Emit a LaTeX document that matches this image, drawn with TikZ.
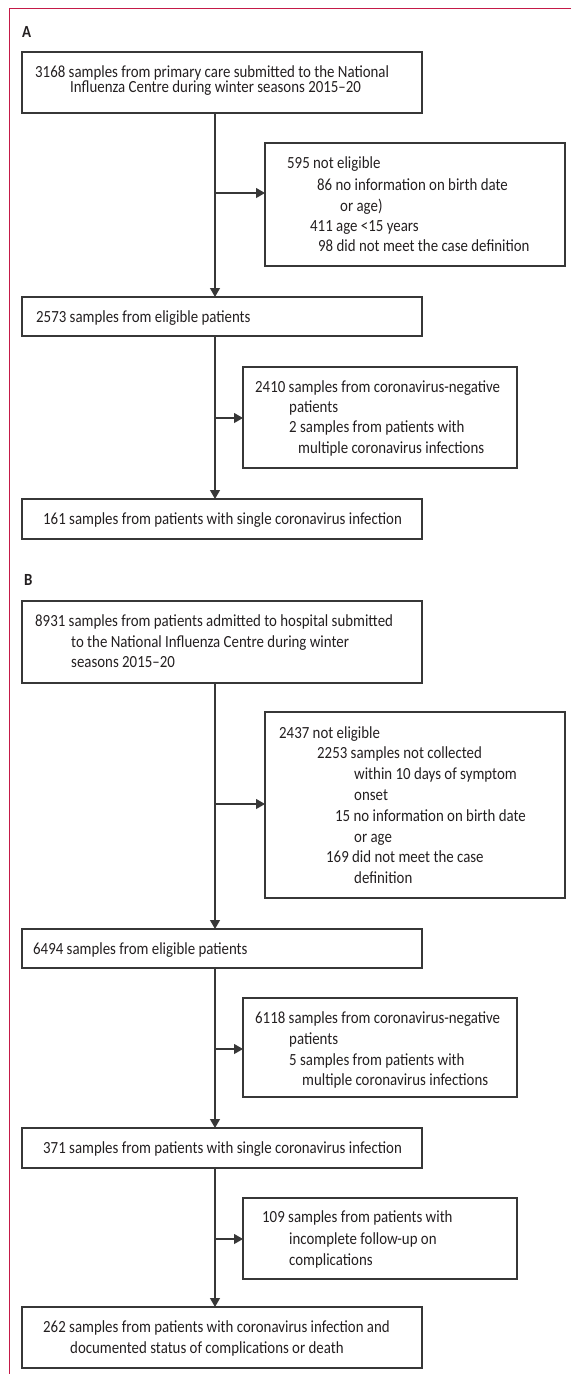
\documentclass[tikz,border=0pt]{standalone}
\usepackage{fontspec}
\setmainfont{Carlito}[FakeStretch=0.875]
\usetikzlibrary{arrows.meta}
\definecolor{framecol}{RGB}{196,26,72}
\definecolor{ink}{RGB}{35,31,32}
\definecolor{linecol}{RGB}{55,55,55}
\begin{document}
\begin{tikzpicture}[x=1pt,y=-1pt,
  box/.style={draw=linecol, line width=1.1pt, inner sep=0pt, outer sep=0pt, anchor=north west},
  txt/.style={anchor=west, inner sep=0pt, text height=10.8pt, text depth=0pt, font=\fontsize{17}{20}\selectfont, text=ink},
  arr/.style={draw=linecol, line width=1.1pt, -{Triangle[length=9pt,width=10pt]}},
  lab/.style={anchor=west, inner sep=0pt, text height=11pt, text depth=0pt, font=\bfseries\fontsize{17}{20}\selectfont, text=ink},
  framel/.style={draw=framecol, line width=1pt}
]
\useasboundingbox (0,0) rectangle (571,1374);
% frame
\coordinate (fTL) at (9,8);
\coordinate (fTR) at (571,8);
\coordinate (fBL) at (9,1374);
\draw[framel] (fTR) -- (fTL) -- (fBL);

% ---------- A ----------
\node[lab] (labA) at (22,32) {A};
\node[box, minimum width=400pt, minimum height=61pt] (a1) at (22,52) {};
\node[txt] (a1t1) at (35,72) {3168 samples from primary care submitted to the National};
\node[txt] (a1t2) at (70,87) {Influenza Centre during winter seasons 2015–20};

\node[box, minimum width=300pt, minimum height=123pt] (a2) at (265,143) {};
\node[txt] (a2t1) at (287,163) {595 not eligible};
\node[txt] (a2t2) at (317,185) {86 no information on birth date};
\node[txt] (a2t3) at (340,206) {or age)};
\node[txt] (a2t4) at (310,226) {411 age <15 years};
\node[txt] (a2t5) at (318,246) {98 did not meet the case definition};

\node[box, minimum width=400pt, minimum height=39pt] (a3) at (22,297) {};
\node[txt] (a3t1) at (36,317) {2573 samples from eligible patients};

\node[box, minimum width=274pt, minimum height=101pt] (a4) at (243,367) {};
\node[txt] (a4t1) at (255,387) {2410 samples from coronavirus-negative};
\node[txt] (a4t2) at (289,407) {patients};
\node[txt] (a4t3) at (289,427) {2 samples from patients with};
\node[txt] (a4t4) at (298,448) {multiple coronavirus infections};

\node[box, minimum width=400pt, minimum height=40pt] (a5) at (22,499) {};
\node[txt] (a5t1) at (43,519) {161 samples from patients with single coronavirus infection};

\coordinate (jA1) at (215,193);
\coordinate (jA2) at (215,418);
\draw[arr] (a1.south -| jA1) -- (a3.north -| jA1);
\draw[arr] (jA1) -- (jA1 -| a2.west);
\draw[arr] (a3.south -| jA2) -- (a5.north -| jA2);
\draw[arr] (jA2) -- (jA2 -| a4.west);

% ---------- B ----------
\node[lab] (labB) at (24,580) {B};
\node[box, minimum width=400pt, minimum height=82pt] (b1) at (22,601) {};
\node[txt] (b1t1) at (35,621) {8931 samples from patients admitted to hospital submitted};
\node[txt] (b1t2) at (71,642) {to the National Influenza Centre during winter};
\node[txt] (b1t3) at (71,662) {seasons 2015–20};

\node[box, minimum width=300pt, minimum height=186pt] (b2) at (265,712) {};
\node[txt] (b2t1) at (279,733) {2437 not eligible};
\node[txt] (b2t2) at (317,753) {2253 samples not collected};
\node[txt] (b2t3) at (354,774) {within 10 days of symptom};
\node[txt] (b2t4) at (354,795) {onset};
\node[txt] (b2t5) at (335,816) {15 no information on birth date};
\node[txt] (b2t6) at (354,837) {or age};
\node[txt] (b2t7) at (326,857) {169 did not meet the case};
\node[txt] (b2t8) at (354,878) {definition};

\node[box, minimum width=400pt, minimum height=39pt] (b3) at (22,929) {};
\node[txt] (b3t1) at (33,949) {6494 samples from eligible patients};

\node[box, minimum width=274pt, minimum height=99pt] (b4) at (243,998) {};
\node[txt] (b4t1) at (255,1018) {6118 samples from coronavirus-negative};
\node[txt] (b4t2) at (289,1039) {patients};
\node[txt] (b4t3) at (289,1060) {5 samples from patients with};
\node[txt] (b4t4) at (302,1080) {multiple coronavirus infections};

\node[box, minimum width=400pt, minimum height=40pt] (b5) at (22,1128) {};
\node[txt] (b5t1) at (43,1148) {371 samples from patients with single coronavirus infection};

\node[box, minimum width=274pt, minimum height=81pt] (b6) at (243,1198) {};
\node[txt] (b6t1) at (262,1217) {109 samples from patients with};
\node[txt] (b6t2) at (289,1239) {incomplete follow-up on};
\node[txt] (b6t3) at (289,1260) {complications};

\node[box, minimum width=400pt, minimum height=61pt] (b7) at (22,1307) {};
\node[txt] (b7t1) at (43,1327) {262 samples from patients with coronavirus infection and};
\node[txt] (b7t2) at (70,1348) {documented status of complications or death};

\coordinate (jB1) at (215,804);
\coordinate (jB2) at (215,1049);
\coordinate (jB3) at (215,1239);
\draw[arr] (b1.south -| jB1) -- (b3.north -| jB1);
\draw[arr] (jB1) -- (jB1 -| b2.west);
\draw[arr] (b3.south -| jB2) -- (b5.north -| jB2);
\draw[arr] (jB2) -- (jB2 -| b4.west);
\draw[arr] (b5.south -| jB3) -- (b7.north -| jB3);
\draw[arr] (jB3) -- (jB3 -| b6.west);
\end{tikzpicture}
\end{document}
